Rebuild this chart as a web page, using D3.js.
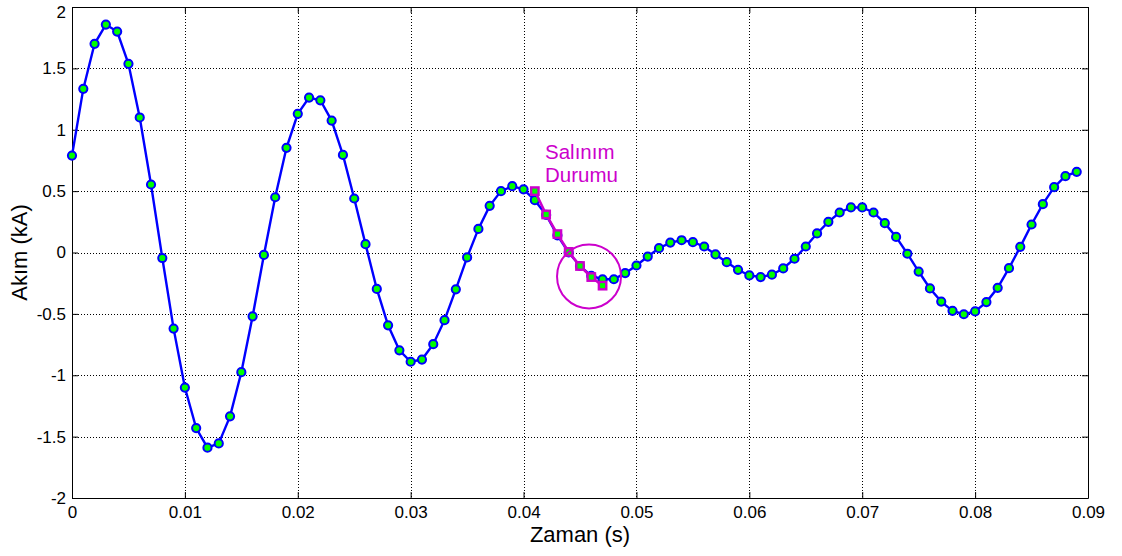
<!DOCTYPE html>
<html>
<head>
<meta charset="utf-8">
<script src="https://cdn.jsdelivr.net/npm/d3@7"></script>
<style>
  body { margin: 0; background: #fff; }
  svg { display: block; font-family: "Liberation Sans", Arial, sans-serif; }
</style>
</head>
<body>
<svg id="chart" width="1122" height="556"></svg>
<script>
// ---- data ----
const times = [
  0.000,0.001,0.002,0.003,0.004,0.005,0.006,0.007,0.008,0.009,
  0.010,0.011,0.012,0.013,0.014,0.015,0.016,0.017,0.018,0.019,
  0.020,0.021,0.022,0.023,0.024,0.025,0.026,0.027,0.028,0.029,
  0.030,0.031,0.032,0.033,0.034,0.035,0.036,0.037,0.038,0.039,
  0.040,0.041,0.042,0.043,0.044,0.045,0.046,0.047,0.048,0.049,
  0.050,0.051,0.052,0.053,0.054,0.055,0.056,0.057,0.058,0.059,
  0.060,0.061,0.062,0.063,0.064,0.065,0.066,0.067,0.068,0.069,
  0.070,0.071,0.072,0.073,0.074,0.075,0.076,0.077,0.078,0.079,
  0.080,0.081,0.082,0.083,0.084,0.085,0.086,0.087,0.088,0.089
];
const current = [
  0.79, 1.333, 1.70, 1.857, 1.80, 1.537, 1.10, 0.554, -0.045, -0.62,
  -1.10, -1.43, -1.59, -1.555, -1.335, -0.975, -0.52, -0.02, 0.45, 0.853,
  1.13, 1.262, 1.24, 1.075, 0.795, 0.44, 0.068, -0.297, -0.593, -0.797,
  -0.89, -0.872, -0.747, -0.551, -0.30, -0.04, 0.192, 0.38, 0.50, 0.54,
  0.515, 0.426, 0.306, 0.14, 0.0, -0.11, -0.19, -0.218, -0.218, -0.168,
  -0.106, -0.033, 0.035, 0.081, 0.10, 0.084, 0.049, -0.016, -0.079, -0.141,
  -0.187, -0.20, -0.181, -0.13, -0.051, 0.049, 0.155, 0.25, 0.326, 0.367,
  0.367, 0.326, 0.239, 0.127, -0.01, -0.155, -0.293, -0.40, -0.475, -0.503,
  -0.48, -0.404, -0.288, -0.128, 0.046, 0.228, 0.394, 0.532, 0.622, 0.657
];
const oscTimes = [0.041, 0.042, 0.043, 0.044, 0.045, 0.046, 0.047];
const oscValues = [0.50, 0.31, 0.15, 0.005, -0.11, -0.20, -0.27];
const xTicks = [0, 0.01, 0.02, 0.03, 0.04, 0.05, 0.06, 0.07, 0.08, 0.09];
const xTickLabels = ["0","0.01","0.02","0.03","0.04","0.05","0.06","0.07","0.08","0.09"];
const yTicks = [-2, -1.5, -1, -0.5, 0, 0.5, 1, 1.5, 2];
const yTickLabels = ["-2","-1.5","-1","-0.5","0","0.5","1","1.5","2"];
const annotationLines = ["Salınım", "Durumu"];
const annotationAnchor = [0.0419, 0.765];  // data coords of text start (first baseline)
const circleCenter = [0.0458, -0.195];     // data coords of highlight circle
const xLabel = "Zaman (s)";
const yLabel = "Akım (kA)";

// ---- layout ----
const W = 1122, H = 556;
const m = { left: 72, right: 34, top: 7, bottom: 58 };
const svg = d3.select("#chart");
const x = d3.scaleLinear().domain([0, 0.09]).range([m.left, W - m.right]);
const y = d3.scaleLinear().domain([-2, 2]).range([H - m.bottom, m.top]);
const magenta = "#cc00cc";

// grid
const grid = svg.append("g");
grid.selectAll(".gx").data(xTicks.slice(1, -1)).join("line")
  .attr("x1", d => Math.round(x(d)) + 0.5).attr("x2", d => Math.round(x(d)) + 0.5)
  .attr("y1", y(2)).attr("y2", y(-2))
  .attr("stroke", "#000").attr("stroke-width", 1).attr("stroke-dasharray", "1,2");
grid.selectAll(".gy").data(yTicks.slice(1, -1)).join("line")
  .attr("y1", d => Math.round(y(d)) + 0.5).attr("y2", d => Math.round(y(d)) + 0.5)
  .attr("x1", x(0)).attr("x2", x(0.09))
  .attr("stroke", "#000").attr("stroke-width", 1).attr("stroke-dasharray", "1,2");

// axes (MATLAB style: inward ticks on all four sides)
const fmtX = (d, i) => xTickLabels[i];
const fmtY = (d, i) => yTickLabels[i];
const axB = svg.append("g").attr("transform", `translate(0,${y(-2)})`)
  .call(d3.axisBottom(x).tickValues(xTicks).tickFormat(fmtX).tickSizeInner(-6).tickSizeOuter(0).tickPadding(8));
const axT = svg.append("g").attr("transform", `translate(0,${y(2)})`)
  .call(d3.axisTop(x).tickValues(xTicks).tickFormat("").tickSizeInner(-6).tickSizeOuter(0));
const axL = svg.append("g").attr("transform", `translate(${x(0)},0)`)
  .call(d3.axisLeft(y).tickValues(yTicks).tickFormat(fmtY).tickSizeInner(-6).tickSizeOuter(0).tickPadding(6));
const axR = svg.append("g").attr("transform", `translate(${x(0.09)},0)`)
  .call(d3.axisRight(y).tickValues(yTicks).tickFormat("").tickSizeInner(-6).tickSizeOuter(0));
[axB, axT, axL, axR].forEach(a => {
  a.selectAll(".domain").attr("stroke", "#000").attr("stroke-width", 1);
  a.selectAll(".tick line").attr("stroke", "#000");
  a.selectAll(".tick text").attr("fill", "#000").attr("font-size", "17px")
    .attr("font-family", "'Liberation Sans', Arial, sans-serif");
});
// keep the top label inside the picture, as in the reference
axL.selectAll(".tick text").filter(d => d === 2).attr("dy", "0.62em");

// series
const pts = times.map((t, i) => [t, current[i]]);
const line = d3.line().x(d => x(d[0])).y(d => y(d[1]));
svg.append("path").datum(pts).attr("d", line)
  .attr("fill", "none").attr("stroke", "#0000ff").attr("stroke-width", 2.4);
svg.append("g").selectAll("circle").data(pts).join("circle")
  .attr("cx", d => x(d[0])).attr("cy", d => y(d[1])).attr("r", 4.1)
  .attr("fill", "#00ff00").attr("stroke", "#0000ff").attr("stroke-width", 2);

const osc = oscTimes.map((t, i) => [t, oscValues[i]]);
svg.append("path").datum(osc).attr("d", line)
  .attr("fill", "none").attr("stroke", magenta).attr("stroke-width", 2.6);
svg.append("g").selectAll("rect").data(osc).join("rect")
  .attr("x", d => x(d[0]) - 3.7).attr("y", d => y(d[1]) - 3.7)
  .attr("width", 7.4).attr("height", 7.4)
  .attr("fill", "#00ff00").attr("stroke", magenta).attr("stroke-width", 2.4);

// annotation
svg.append("circle")
  .attr("cx", x(circleCenter[0])).attr("cy", y(circleCenter[1])).attr("r", 32)
  .attr("fill", "none").attr("stroke", magenta).attr("stroke-width", 2);
svg.append("g").selectAll("text").data(annotationLines).join("text")
  .attr("x", x(annotationAnchor[0]))
  .attr("y", (d, i) => y(annotationAnchor[1]) + i * 23)
  .attr("fill", magenta).attr("font-size", "20.5px")
  .text(d => d);

// axis labels
svg.append("text").attr("x", (x(0) + x(0.09)) / 2).attr("y", 542)
  .attr("text-anchor", "middle").attr("font-size", "22px").attr("fill", "#000").text(xLabel);
svg.append("text").attr("transform", `translate(27,${y(0)}) rotate(-90)`)
  .attr("text-anchor", "middle").attr("font-size", "22px").attr("fill", "#000").text(yLabel);
</script>
</body>
</html>
